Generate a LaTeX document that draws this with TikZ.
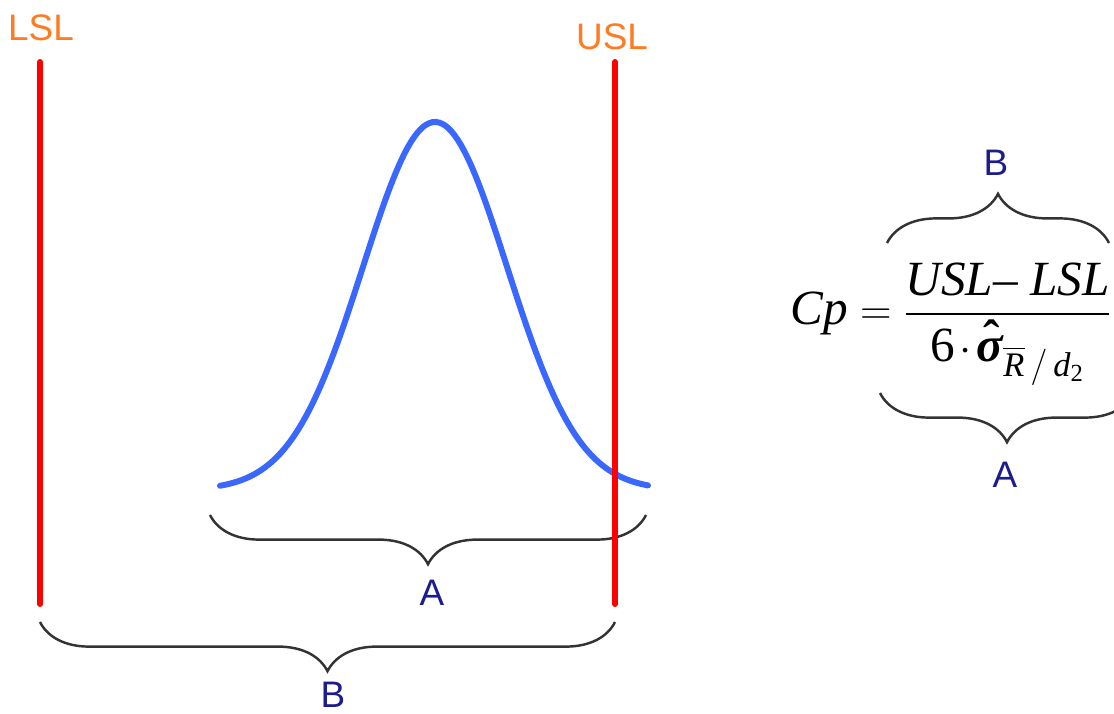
\documentclass[tikz,border=0pt]{standalone}
\usepackage{amsmath}
\usepackage{fontspec}
\setmainfont{Liberation Serif}
\newfontfamily\labelfont{Liberation Sans}
\usetikzlibrary{decorations.pathreplacing,calc}
\definecolor{limorange}{HTML}{FF7A21}
\definecolor{limred}{HTML}{FF0000}
\definecolor{curveblue}{HTML}{3A68FF}
\definecolor{labelnavy}{HTML}{1C1C8A}
\definecolor{bracegray}{HTML}{333333}
\newcommand{\itx}[1]{\text{\itshape #1}}
\newcommand{\sighat}{\text{\bfseries\itshape\rlap{\hspace{0.13em}\raisebox{0.14em}{\upshape ˆ}}σ}}

\begin{document}
\begin{tikzpicture}[
    x=0.02cm, y=-0.02cm,
    lim/.style={line width=3.4pt, draw=limred, line cap=round},
    limlabel/.style={font=\labelfont\fontsize{21}{24}\selectfont, text=limorange, inner sep=0pt},
    bell/.style={line width=3.4pt, draw=curveblue, line cap=round},
    brc/.style={decorate, decoration={brace, amplitude=28pt}, line width=1.4pt, draw=bracegray},
    brclabel/.style={font=\labelfont\fontsize{21}{24}\selectfont, text=labelnavy, inner sep=0pt},
    formula/.style={font=\fontsize{28}{34}\selectfont, inner sep=0pt}
]
    \useasboundingbox (0,0) rectangle (1114,713);

    % spec limits
    \coordinate (lslTop) at (40,62);
    \coordinate (lslBot) at (40,604);
    \coordinate (uslTop) at (615,62);
    \coordinate (uslBot) at (615,604);
    \node [limlabel] (lsl) at (41,28) {LSL};
    \node [limlabel] (usl) at (612,37) {USL};

    % process spread
    \draw [bell] plot[domain=220:648, samples=120, smooth] (\x, {490-368*exp(-0.5*((\x-435)/72)^2)});

    % braces under the plot
    \coordinate (aL) at (210,515);
    \coordinate (aR) at (646,515);
    \coordinate (bL) at (40,622);
    \coordinate (bR) at (615,622);
    \draw [brc] (aR) -- (aL);
    \draw [brc] (bR) -- (bL);
    \node [brclabel] (a1) at (432,593) {A};
    \node [brclabel] (b1) at (333,695) {B};

    \draw [lim] (lslTop) -- (lslBot);
    \draw [lim] (uslTop) -- (uslBot);

    % Cp formula
    \node [formula] (cp) at (951,324)
        {$\itx{Cp}=\dfrac{\itx{USL– LSL}}{\text{6}\mkern2mu{\cdot}\mkern2mu\sighat_{\overline{\itx{R}}\,/\,\itx{d}_{\text{2}}}}$};
    \coordinate (topL) at (887,243);
    \coordinate (topR) at (1109,243);
    \coordinate (botL) at (880,393);
    \coordinate (botR) at (1134,393);
    \draw [brc] (topL) -- (topR);
    \draw [brc] (botR) -- (botL);
    \node [brclabel] (b2) at (996,163) {B};
    \node [brclabel] (a2) at (1005,475) {A};
\end{tikzpicture}
\end{document}
